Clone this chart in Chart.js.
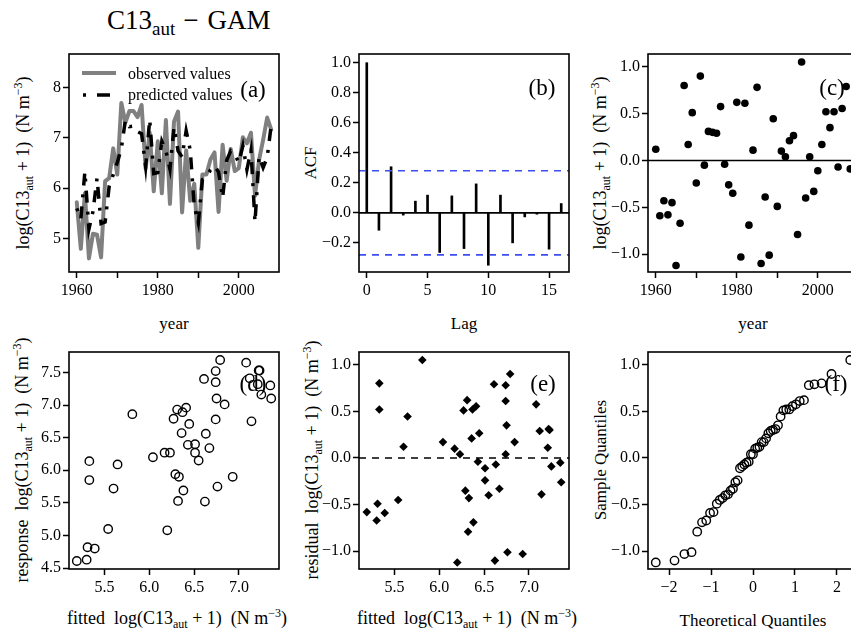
<!DOCTYPE html>
<html><head><meta charset="utf-8">
<script src="https://cdn.jsdelivr.net/npm/chart.js@4.4.0/dist/chart.umd.min.js"></script>
<style>
html,body{margin:0;padding:0;background:#fff;}
body{width:851px;height:637px;overflow:hidden;position:relative;font-family:'Liberation Serif','Times New Roman',serif;color:#000;}
canvas.cv{position:absolute;}
.t{position:absolute;white-space:nowrap;font-size:17px;line-height:1;}
.big{font-size:18px;}
.rot{transform:translate(-50%,-50%) rotate(-90deg);}
.hc{transform:translate(-50%,-50%);}
.sb{font-size:12px;position:relative;top:4px;}
.sp{font-size:12px;position:relative;top:-7px;}
.lab{position:absolute;font-size:23px;line-height:1;transform:translate(-50%,-50%);}
.leg{position:absolute;font-size:16px;line-height:1;white-space:nowrap;transform:translateY(-50%);}
</style></head><body>

<div class="t" style="left:107px;top:7px;font-size:27px;">C13<span style="font-size:19px;position:relative;top:6px;">aut</span><span style="margin:0 9px 0 8px;">&minus;</span>GAM</div>

<!-- axis titles -->
<div class="t big rot" style="left:23px;top:163px;">log(C13<span class="sb">aut</span> + 1)&nbsp;&nbsp;(N m<span class="sp">&minus;3</span>)</div>
<div class="t hc" style="left:174px;top:323px;">year</div>
<div class="t rot" style="left:310px;top:163px;">ACF</div>
<div class="t hc" style="left:464px;top:323px;">Lag</div>
<div class="t big rot" style="left:600px;top:163px;">log(C13<span class="sb">aut</span> + 1)&nbsp;&nbsp;(N m<span class="sp">&minus;3</span>)</div>
<div class="t hc" style="left:753px;top:323px;">year</div>

<div class="t big rot" style="left:22px;top:460px;">response&nbsp;&nbsp;log(C13<span class="sb">aut</span> + 1)&nbsp;&nbsp;(N m<span class="sp">&minus;3</span>)</div>
<div class="t big hc" style="left:177px;top:618px;">fitted&nbsp;&nbsp;log(C13<span class="sb">aut</span> + 1)&nbsp;&nbsp;(N m<span class="sp">&minus;3</span>)</div>
<div class="t big rot" style="left:312px;top:460px;">residual&nbsp;&nbsp;log(C13<span class="sb">aut</span> + 1)&nbsp;&nbsp;(N m<span class="sp">&minus;3</span>)</div>
<div class="t big hc" style="left:467px;top:618px;">fitted&nbsp;&nbsp;log(C13<span class="sb">aut</span> + 1)&nbsp;&nbsp;(N m<span class="sp">&minus;3</span>)</div>
<div class="t rot" style="left:600px;top:460px;">Sample Quantiles</div>
<div class="t hc" style="left:753px;top:620px;">Theoretical Quantiles</div>

<script>
// ---------------- data ----------------
const years = [1960,1961,1962,1963,1964,1965,1966,1967,1968,1969,
               1970,1971,1972,1973,1974,1975,1976,1977,1978,1979,
               1980,1981,1982,1983,1984,1985,1986,1987,1988,1989,
               1990,1991,1992,1993,1994,1995,1996,1997,1998,1999,
               2000,2001,2002,2003,2004,2005,2006,2007,2008];
const observed = [5.72,4.80,5.90,4.61,5.10,5.08,4.63,6.14,6.20,6.79,
                  6.27,7.69,7.30,7.53,7.53,7.41,7.65,6.39,7.10,5.94,
                  6.93,5.90,7.35,5.69,7.32,7.52,5.52,6.75,5.75,6.09,
                  4.82,6.27,6.27,6.57,6.71,5.53,6.86,6.15,6.78,6.34,
                  6.40,7.01,6.89,7.10,5.85,6.56,6.96,7.40,7.16];
const predicted = [5.60,5.39,6.33,5.19,5.54,6.20,5.30,5.33,6.04,6.27,
                   6.51,6.79,7.35,7.22,7.23,7.12,7.08,6.43,7.36,6.29,
                   6.31,6.93,6.74,6.38,7.21,6.74,6.62,7.14,6.76,5.645,
                   5.31,6.17,6.23,6.36,6.445,6.32,5.81,6.55,6.74,6.67,
                   6.51,6.84,6.37,6.75,5.33,6.63,6.41,6.61,7.25];
const residuals = [0.12,-0.59,-0.43,-0.58,-0.45,-1.12,-0.67,0.80,0.17,0.51,
                   -0.24,0.90,-0.05,0.31,0.30,0.29,0.575,-0.04,-0.26,-0.35,
                   0.62,-1.03,0.61,-0.69,0.11,0.78,-1.10,-0.39,-1.01,0.445,
                   -0.49,0.10,0.04,0.21,0.265,-0.79,1.05,-0.40,0.04,-0.33,
                   -0.11,0.17,0.52,0.35,0.52,-0.07,0.555,0.79,-0.09];
const acfLags = [0,1,2,3,4,5,6,7,8,9,10,11,12,13,14,15,16];
const acfValues = [1.0,-0.116,0.307,-0.015,0.078,0.118,-0.264,0.113,-0.238,0.193,-0.349,0.118,-0.200,-0.027,-0.009,-0.242,0.062];
const acfConf = 0.28;
const theoreticalQuantiles = [-2.318,-1.871,-1.635,-1.465,-1.330,-1.215,-1.114,-1.024,-0.941,-0.864,
  -0.792,-0.724,-0.658,-0.596,-0.536,-0.478,-0.421,-0.366,-0.311,-0.258,-0.206,-0.154,-0.102,-0.051,0,
  0.051,0.102,0.154,0.206,0.258,0.311,0.366,0.421,0.478,0.536,0.596,0.658,0.724,0.792,0.864,
  0.941,1.024,1.114,1.215,1.330,1.465,1.635,1.871,2.318];

// tick labels
const yearTicks = [1960,1970,1980,1990,2000];
const logTicksA = [5,6,7,8];
const lagTicks = [0,5,10,15];
const acfTicks = [-0.2,0,0.2,0.4,0.6,0.8,1.0];
const residTicks = [-1,-0.5,0,0.5,1];
const fittedTicks = [5.5,6,6.5,7];
const responseTicks = [4.5,5,5.5,6,6.5,7,7.5];
const quantTicks = [-2,-1,0,1,2];

// ---------------- helpers ----------------
const PT=15, PR=25, YW=50, XH=30;
const FONT="'Liberation Serif', 'Times New Roman', serif";
Chart.defaults.font.family = FONT;
Chart.defaults.color = '#000';
const minus = s => s.replace('-', '\u2212');
const f1 = v => minus((Math.round(v*10)/10).toFixed(1));
const f0 = v => minus(String(Math.round(v)));
const fYear = v => (Math.round(v) % 20 === 0 ? String(Math.round(v)) : '');

const boxPlugin = {id:'boxframe', afterDraw(c){const a=c.chartArea,ctx=c.ctx;ctx.save();ctx.strokeStyle='#000';ctx.lineWidth=1.6;ctx.strokeRect(a.left,a.top,a.right-a.left,a.bottom-a.top);ctx.restore();}};
const hlinePlugin = {id:'hlines', afterDatasetsDraw(c,args,opts){
  const lines=(opts&&opts.lines)||[]; const a=c.chartArea, ctx=c.ctx, ys=c.scales.y;
  lines.forEach(L=>{const py=ys.getPixelForValue(L.y);ctx.save();ctx.beginPath();ctx.rect(a.left,a.top,a.right-a.left,a.bottom-a.top);ctx.clip();
    ctx.strokeStyle=L.color;ctx.lineWidth=L.width;ctx.setLineDash(L.dash||[]);ctx.beginPath();ctx.moveTo(a.left,py);ctx.lineTo(a.right,py);ctx.stroke();ctx.restore();});
}};
Chart.register(boxPlugin, hlinePlugin);

function mkScale(min,max,ticks,fmt,isX){
  return {type:'linear',min,max,offset:false,
    afterBuildTicks:s=>{s.ticks=ticks.map(v=>({value:v}));},
    afterFit:s=>{ if(isX) s.height=XH; else s.width=YW; },
    grid:{display:true,drawOnChartArea:false,drawTicks:true,offset:false,tickLength:6,tickWidth:1.5,tickColor:'#000',color:'#000'},
    border:{display:false},
    ticks:{color:'#000',font:{family:FONT,size:16},padding:isX?3:2,autoSkip:false,maxRotation:0,minRotation:0,callback:v=>fmt(v)}
  };
}
function makeChart(l,t,w,h,cfg){
  const cv=document.createElement('canvas');
  cv.className='cv';
  const W=YW+w+PR, H=PT+h+XH;
  cv.width=W; cv.height=H;
  cv.style.left=(l-YW)+'px'; cv.style.top=(t-PT)+'px';
  cv.style.width=W+'px'; cv.style.height=H+'px';
  document.body.appendChild(cv);
  cfg.options=Object.assign({responsive:false,animation:false,devicePixelRatio:1,
    layout:{padding:{top:PT,right:PR,left:0,bottom:0}}},cfg.options);
  cfg.options.plugins=Object.assign({legend:{display:false},tooltip:{enabled:false}},cfg.options.plugins||{});
  return new Chart(cv,cfg);
}
const pts = (xs,ys) => xs.map((x,i)=>({x, y:ys[i]}));

const COLX=[69,359,648], ROWY=[54,352], PW=210, PH=[218,217];

// (a) observed vs predicted time series
makeChart(COLX[0],ROWY[0],PW,PH[0],{type:'line',
  data:{datasets:[
    {label:'predicted values',data:pts(years,predicted),borderColor:'#000',borderWidth:3.5,borderDash:[3,9,12,9],borderCapStyle:'butt',pointRadius:0,tension:0,fill:false,order:0},
    {label:'observed values',data:pts(years,observed),borderColor:'#808080',borderWidth:4,borderJoinStyle:'round',borderCapStyle:'round',pointRadius:0,tension:0,fill:false,order:1}
  ]},
  options:{scales:{x:mkScale(1958.08,2009.92,yearTicks,fYear,true),y:mkScale(4.34,8.66,logTicksA,f0,false)}}
});

// (b) ACF
makeChart(COLX[1],ROWY[0],PW,PH[0],{type:'bar',
  data:{datasets:[{label:'ACF',data:pts(acfLags,acfValues),backgroundColor:'#000',borderWidth:0,barThickness:2,grouped:false}]},
  options:{scales:{x:mkScale(-0.64,16.64,lagTicks,f0,true),y:mkScale(-0.394,1.058,acfTicks,f1,false)},
    plugins:{hlines:{lines:[{y:0,color:'#000',width:1.6},{y:acfConf,color:'#3c4ef0',width:1.6,dash:[7,6]},{y:-acfConf,color:'#3c4ef0',width:1.6,dash:[7,6]}]}}}
});

// (c) residuals vs year
makeChart(COLX[2],ROWY[0],PW,PH[0],{type:'scatter',
  data:{datasets:[{label:'residuals',data:pts(years,residuals),backgroundColor:'#000',borderColor:'#000',pointRadius:3.8,borderWidth:0}]},
  options:{scales:{x:mkScale(1958.08,2009.92,yearTicks,fYear,true),y:mkScale(-1.19,1.136,residTicks,f1,false)},
    plugins:{hlines:{lines:[{y:0,color:'#000',width:1.6}]}}}
});

// (d) response vs fitted
makeChart(COLX[0],ROWY[1],PW,PH[1],{type:'scatter',
  data:{datasets:[{label:'response',data:pts(predicted,observed),backgroundColor:'rgba(0,0,0,0)',borderColor:'#000',pointRadius:4.2,borderWidth:1.4}]},
  options:{scales:{x:mkScale(5.103,7.447,fittedTicks,f1,true),y:mkScale(4.487,7.813,responseTicks,f1,false)}}
});

// (e) residual vs fitted
makeChart(COLX[1],ROWY[1],PW,PH[1],{type:'scatter',
  data:{datasets:[{label:'residual',data:pts(predicted,residuals),backgroundColor:'#000',borderColor:'#000',pointStyle:'rectRot',pointRadius:4.3,borderWidth:0}]},
  options:{scales:{x:mkScale(5.103,7.447,fittedTicks,f1,true),y:mkScale(-1.19,1.136,residTicks,f1,false)},
    plugins:{hlines:{lines:[{y:0,color:'#000',width:1.6,dash:[7,6]}]}}}
});

// (f) normal QQ plot
const sortedResiduals=[...residuals].sort((a,b)=>a-b);
makeChart(COLX[2],ROWY[1],PW,PH[1],{type:'scatter',
  data:{datasets:[{label:'Sample Quantiles',data:pts(theoreticalQuantiles,sortedResiduals),backgroundColor:'rgba(0,0,0,0)',borderColor:'#000',pointRadius:4.2,borderWidth:1.4}]},
  options:{scales:{x:mkScale(-2.503,2.503,quantTicks,f0,true),y:mkScale(-1.19,1.136,residTicks,f1,false)}}
});
</script>

<!-- panel letters and legend (on top of canvases) -->
<div class="lab" style="left:253px;top:89px;">(a)</div>
<div class="lab" style="left:542px;top:87px;">(b)</div>
<div class="lab" style="left:832px;top:87px;">(c)</div>
<div class="lab" style="left:253px;top:383px;">(d)</div>
<div class="lab" style="left:543px;top:383px;">(e)</div>
<div class="lab" style="left:836px;top:383px;">(f)</div>

<svg style="position:absolute;left:78px;top:62px;" width="45" height="45">
  <line x1="4" y1="11" x2="38" y2="11" stroke="#808080" stroke-width="4"/>
  <line x1="5" y1="33" x2="38" y2="33" stroke="#000" stroke-width="3.5" stroke-dasharray="3 11 13 100"/>
</svg>
<div class="leg" style="left:128px;top:74px;">observed values</div>
<div class="leg" style="left:128px;top:95px;">predicted values</div>
</body></html>
